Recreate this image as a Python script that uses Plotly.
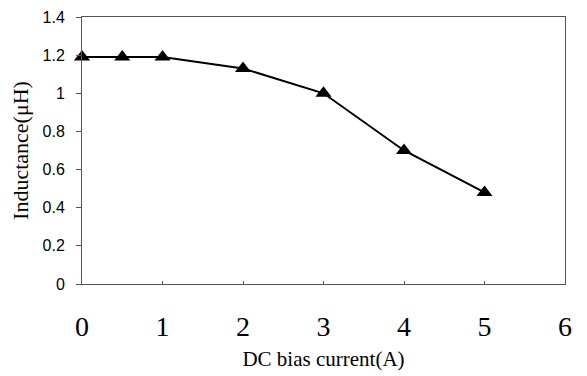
import plotly.graph_objects as go

current = [0, 0.5, 1, 2, 3, 4, 5]
inductance = [1.19, 1.19, 1.19, 1.13, 1.0, 0.70, 0.48]
x_ticks = [0, 1, 2, 3, 4, 5, 6]
y_ticks = [0, 0.2, 0.4, 0.6, 0.8, 1, 1.2, 1.4]

fig = go.Figure()
fig.add_trace(go.Scatter(
    x=current, y=inductance, mode="lines+markers",
    line=dict(color="black", width=2),
    marker=dict(symbol="triangle-up", size=14, color="black"),
    cliponaxis=False, showlegend=False,
))

fig.update_layout(
    width=587, height=376,
    margin=dict(l=74, r=30, t=9, b=100, autoexpand=False),
    paper_bgcolor="white", plot_bgcolor="white",
    xaxis=dict(
        range=[0, 6], tickvals=x_ticks, ticktext=[str(v) for v in x_ticks],
        showgrid=False, zeroline=False, showline=True, linecolor="#555", linewidth=1,
        mirror=True, ticks="inside", ticklen=3, tickcolor="#555", automargin=False,
        ticklabelstandoff=17,
        tickfont=dict(family="Liberation Serif", size=28, color="black"),
        title=dict(text="DC bias current(A)", font=dict(family="Liberation Serif", size=21, color="black"), standoff=10),
    ),
    yaxis=dict(
        range=[0, 1.4], tickvals=y_ticks, ticktext=["0", "0.2", "0.4", "0.6", "0.8", "1", "1.2", "1.4"],
        showgrid=False, zeroline=False, showline=True, linecolor="#555", linewidth=1,
        mirror=True, ticks="outside", ticklen=5, tickcolor="#555", automargin=False,
        ticklabelstandoff=8,
        tickfont=dict(family="Liberation Sans", size=16, color="black"),
        title=dict(text="Inductance(μH)", font=dict(family="Liberation Serif", size=22, color="black"), standoff=10),
    ),
)

fig.write_html("out.html")
